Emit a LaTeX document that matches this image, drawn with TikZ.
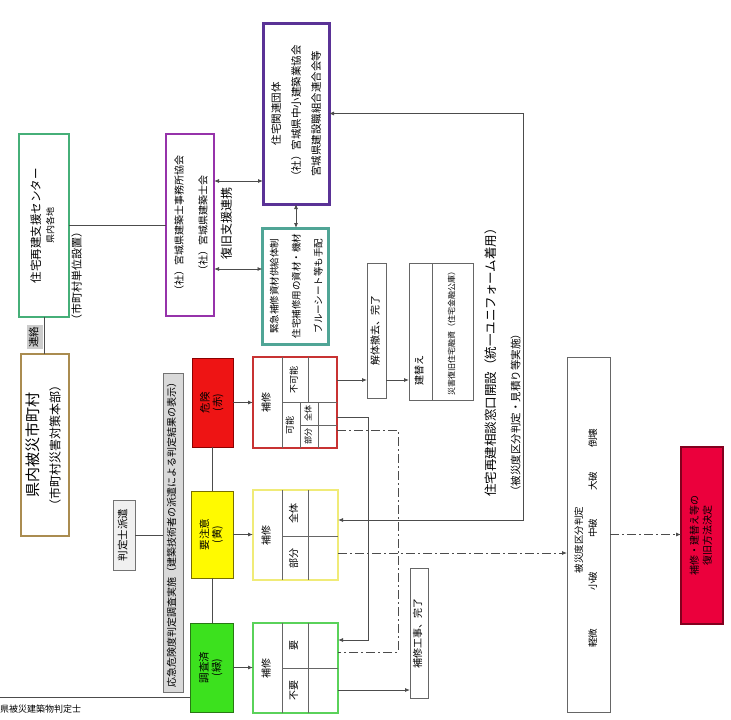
\documentclass[tikz,border=0pt]{standalone}
\usepackage{fontspec}
\setmainfont{Noto Sans CJK JP}
\usetikzlibrary{arrows.meta}
\definecolor{cgreen}{RGB}{70,175,120}
\definecolor{ctan}{RGB}{170,140,80}
\definecolor{cpur}{RGB}{150,50,170}
\definecolor{cdpur}{RGB}{90,50,150}
\definecolor{cteal}{RGB}{80,165,150}
\definecolor{cred}{RGB}{238,20,20}
\definecolor{credB}{RGB}{140,0,0}
\definecolor{cyel}{RGB}{255,250,0}
\definecolor{cyelB}{RGB}{120,110,0}
\definecolor{cgrn}{RGB}{60,225,30}
\definecolor{cgrnB}{RGB}{40,120,20}
\definecolor{credD}{RGB}{200,50,50}
\definecolor{cyelD}{RGB}{240,235,120}
\definecolor{cgrnD}{RGB}{90,210,90}
\definecolor{cpink}{RGB}{235,0,60}
\definecolor{cpinkB}{RGB}{130,0,30}
\newcommand{\rt}[3]{\rotatebox{90}{\fontsize{#1}{#2}\selectfont\begin{tabular}{@{}c@{}}#3\end{tabular}}}
\begin{document}
\begin{tikzpicture}[x=1pt,y=-1pt,
  box/.style={draw, inner sep=0pt, outer sep=0pt, fill=white},
  plainbox/.style={box, draw=black!60, line width=0.8pt},
  conn/.style={draw=black!70, line width=0.8pt},
  arr/.style={conn, -{Latex[length=5pt,width=4pt]}},
  darr/.style={conn, {Latex[length=5pt,width=4pt]}-{Latex[length=5pt,width=4pt]}},
  dd/.style={conn, dash pattern=on 9pt off 3pt on 2pt off 3pt},
  ddarr/.style={dd, -{Latex[length=5pt,width=4pt]}},
  grid/.style={draw=black!60, line width=0.7pt},
  txt/.style={inner sep=0pt}]
\useasboundingbox (0,0) rectangle (731,720);
\fill[white] (0,0) rectangle (731,720);

% left column
\node[box, draw=cgreen, line width=2.5pt, minimum width=50pt, minimum height=183pt] (ctr) at (44,225.5)
  {\rt{11.5}{13.5}{住宅再建支援センター\\{\fontsize{9}{10}\selectfont 県内各地}}};
\node[box, draw=ctan, line width=2.5pt, minimum width=48pt, minimum height=182pt] (tan) at (45,445)
  {\rotatebox{90}{\fontsize{12}{21}\selectfont\begin{tabular}{@{}c@{}}{\fontsize{15}{18}\selectfont 県内被災市町村}\\（市町村災害対策本部）\end{tabular}}};
\node[txt, fill=black!20, inner sep=1.5pt] (renraku) at (35,337) {\rt{10.5}{12}{連絡}};
\node[txt] (setchi) at (78,276) {\rt{11}{13}{（市町村単位設置）}};

% upper groups
\node[box, draw=cpur, line width=2.5pt, minimum width=48pt, minimum height=182pt] (pur) at (190,225)
  {\rt{10}{24}{（社）宮城県建築士事務所協会\\（社）宮城県建築士会}};
\node[txt] (renkei) at (228,223) {\rt{12}{14}{復旧支援連携}};
\node[box, draw=cdpur, line width=3pt, minimum width=66pt, minimum height=181pt] (dpur) at (296,113.5)
  {\rt{10.5}{20}{住宅関連団体\\（社）宮城県中小建築業協会\\宮城県建設職組合連合会等}};
\node[box, draw=cteal, line width=3pt, minimum width=63pt, minimum height=116pt] (teal) at (295.5,286)
  {\rt{9.5}{22}{緊急補修資材供給体制\\住宅補修用の資材・機材\\ブルーシート等も手配}};

% judgement label
\node[box, fill=black!15, draw=black!55, line width=0.8pt, minimum width=20pt, minimum height=319pt] (hantei) at (173,532.5)
  {\rt{10}{12}{応急危険度判定調査実施（建築技術者の派遣による判定結果の表示）}};
\node[box, fill=black!6, draw=black!55, line width=0.8pt, minimum width=22pt, minimum height=70pt] (irai) at (124,535)
  {\rt{10.5}{12}{判定士派遣}};

% status boxes
\node[box, fill=cred, draw=credB, line width=1pt, minimum width=41pt, minimum height=89pt] (red) at (212.5,402.5) {\rt{10.5}{12}{危険\\(赤)}};
\node[box, fill=cyel, draw=cyelB, line width=1pt, minimum width=42pt, minimum height=87pt] (yel) at (212,534.5) {\rt{10.5}{12}{要注意\\(黄)}};
\node[box, fill=cgrn, draw=cgrnB, line width=1pt, minimum width=43pt, minimum height=89pt] (grn) at (211.5,667.5) {\rt{10.5}{12}{調査済\\(緑)}};

% detail boxes
\node[box, draw=credD, line width=2pt, minimum width=84pt, minimum height=91pt] (redD) at (295,402.5) {};
\draw[grid] (282,357) -- (282,448);
\draw[grid] (282,402) -- (337,402);
\draw[grid] (308,357) -- (308,402);
\draw[grid] (300,402) -- (300,448);
\draw[grid] (318,402) -- (318,448);
\draw[grid] (300,425) -- (337,425);
\node[txt] (rA) at (267.5,402.5) {\rt{10}{12}{補修}};
\node[txt] (rB) at (295,379.5) {\rt{9}{11}{不可能}};
\node[txt] (rC) at (291,425) {\rt{9}{11}{可能}};
\node[txt] (rD) at (309,413.5) {\rt{8}{10}{全体}};
\node[txt] (rE) at (309,436.5) {\rt{8}{10}{部分}};

\node[box, draw=cyelD, line width=2pt, minimum width=85pt, minimum height=90pt] (yelD) at (295.5,535) {};
\draw[grid] (282,490) -- (282,580);
\draw[grid] (308,490) -- (308,580);
\draw[grid] (282,536) -- (338,536);
\node[txt] (yA) at (267.5,535) {\rt{10}{12}{補修}};
\node[txt] (yB) at (295,513) {\rt{10}{12}{全体}};
\node[txt] (yC) at (295,558) {\rt{10}{12}{部分}};

\node[box, draw=cgrnD, line width=2pt, minimum width=85pt, minimum height=90pt] (grnD) at (295.5,668) {};
\draw[grid] (282,623) -- (282,713);
\draw[grid] (308,623) -- (308,713);
\draw[grid] (282,668) -- (338,668);
\node[txt] (gA) at (267.5,668) {\rt{10}{12}{補修}};
\node[txt] (gB) at (295,645.5) {\rt{10}{12}{要}};
\node[txt] (gC) at (295,690.5) {\rt{10}{12}{不要}};

% results
\node[plainbox, minimum width=19pt, minimum height=135pt] (dem) at (376.5,330.5) {\rt{10}{12}{解体撤去、完了}};
\node[plainbox, minimum width=64pt, minimum height=137pt] (reb) at (441,331.5) {};
\draw[grid] ([xshift=-9pt]reb.north) -- ([xshift=-9pt]reb.south);
\node[txt, anchor=south] (rebA) at (420.5,386) {\rt{10}{12}{建替え}};
\node[txt] (rebB) at (452.5,331.5) {\rt{8}{10}{災害復旧住宅融資（住宅金融公庫）}};
\node[plainbox, minimum width=18pt, minimum height=130pt] (fin) at (419,633) {\rt{10}{12}{補修工事、完了}};

\node[txt, anchor=south] (madoguchi) at (492,497) {\rt{12.5}{14}{住宅再建相談窓口開設（統一ユニフォーム着用）}};
\node[txt, anchor=south] (mitsumori) at (517,497) {\rt{10.5}{12}{（被災度区分判定・見積り等実施）}};

\node[plainbox, minimum width=43pt, minimum height=355pt] (big) at (588.5,534.5) {};
\node[txt] (kubun) at (580,540) {\rt{9.5}{11}{被災度区分判定}};
\node[txt] (w1) at (594,638) {\rt{9.5}{11}{軽微}};
\node[txt] (w2) at (594,581) {\rt{9.5}{11}{小破}};
\node[txt] (w3) at (594,528) {\rt{9.5}{11}{中破}};
\node[txt] (w4) at (594,481) {\rt{9.5}{11}{大破}};
\node[txt] (w5) at (594,438) {\rt{9.5}{11}{倒壊}};

\node[box, fill=cpink, draw=cpinkB, line width=1.5pt, minimum width=42pt, minimum height=177pt] (pink) at (702,535.5)
  {\rt{10}{13}{補修・建替え等の\\復旧方法決定}};

\node[txt, anchor=west] (kenlab) at (0,709) {\fontsize{9}{10}\selectfont 県被災建築物判定士};

% corner coordinates
\coordinate (cR) at (523,520);
\coordinate (k1) at (368,417);
\coordinate (k2) at (368,640);
\coordinate (d1) at (398,430);
\coordinate (d2) at (398,652);
\coordinate (e0) at (0,697);

% connectors
\draw[conn] (ctr.east) -- (ctr.east -| pur.west);
\draw[conn] (ctr.south) -- (ctr.south |- tan.north);
\draw[darr] ([yshift=44pt]pur.east) -- ([yshift=44pt]pur.east -| dpur.west);
\draw[darr] ([yshift=-44pt]pur.east) -- ([yshift=-44pt]pur.east -| teal.west);
\draw[darr] (dpur.south) -- (dpur.south |- teal.north);
\draw[darr] (dpur.east) -| (cR) -- (cR -| yelD.east);

\draw[conn] (irai.east) -- (irai.east -| hantei.west);
\draw[conn] (e0) -- (e0 -| grn.west);
\draw[conn] (red.south) -- (red.south |- yel.north);
\draw[conn] (yel.south) -- (yel.south |- grn.north);
\draw[arr] (red.east) -- (red.east -| redD.west);
\draw[arr] (yel.east) -- (yel.east -| yelD.west);
\draw[arr] (grn.east) -- (grn.east -| grnD.west);

\draw[arr] ([yshift=22.5pt]redD.east) -- ([yshift=22.5pt]redD.east -| dem.west);
\draw[arr] ([yshift=-49.5pt]dem.east) -- ([yshift=-49.5pt]dem.east -| reb.west);
\draw[arr] ([yshift=-14.5pt]redD.east) -- (k1) -- (k2) -- (k2 -| grnD.east);
\draw[dd] ([yshift=-27.5pt]redD.east) -- (d1) -- (d2) -- (d2 -| grnD.east);
\draw[ddarr] ([yshift=-18pt]yelD.east) -- ([yshift=-18pt]yelD.east -| big.west);
\draw[arr] ([yshift=-22pt]grnD.east) -- ([yshift=-22pt]grnD.east -| fin.west);
\draw[ddarr] (big.east) -- (big.east -| pink.west);
\end{tikzpicture}
\end{document}
